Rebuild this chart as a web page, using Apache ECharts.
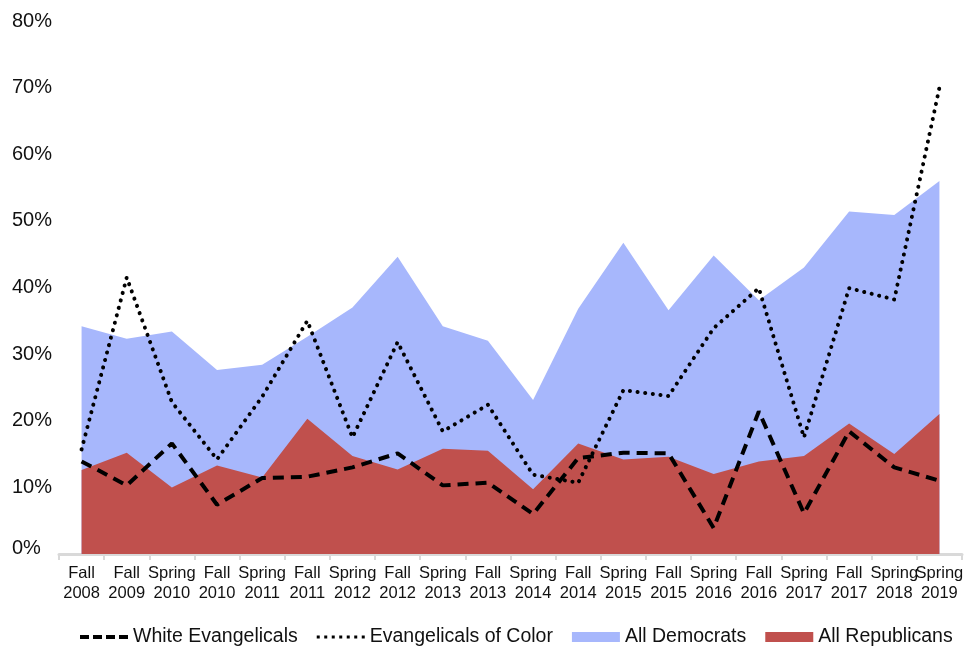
<!DOCTYPE html>
<html>
<head>
<meta charset="utf-8">
<script src="https://cdn.jsdelivr.net/npm/echarts@6/dist/echarts.min.js"></script>
<style>
html,body{margin:0;padding:0;background:#fff;}
#chart{width:971px;height:646px;}
</style>
</head>
<body>
<div id="chart"></div>
<script>
const categories = ["Fall\n2008","Fall\n2009","Spring\n2010","Fall\n2010","Spring\n2011","Fall\n2011","Spring\n2012","Fall\n2012","Spring\n2013","Fall\n2013","Spring\n2014","Fall\n2014","Spring\n2015","Fall\n2015","Spring\n2016","Fall\n2016","Spring\n2017","Fall\n2017","Spring\n2018","Spring\n2019"];
const whiteEvangelicals = [13.9,10.3,16.6,7.4,11.4,11.6,13.0,15.1,10.3,10.7,6.0,14.4,15.2,15.1,3.9,21.4,6.1,18.4,13.0,11.0];
const evangelicalsOfColor = [15.7,41.5,22.8,14.2,23.6,35.0,17.5,31.8,18.4,22.4,11.9,10.7,24.6,23.7,33.9,39.9,17.5,39.9,38.2,70.0];
const allDemocrats = [34.2,32.3,33.4,27.6,28.4,32.6,37.0,44.6,34.2,32.0,23.1,36.8,46.7,36.6,44.8,38.1,43.0,51.4,50.9,56.0];
const allRepublicans = [12.6,15.2,10.0,13.3,11.5,20.3,14.7,12.7,15.8,15.5,9.7,16.6,14.2,14.6,12.0,13.9,14.7,19.6,15.0,21.0];
const yTicks = {min:0, max:80, interval:10};

const FONT = "'Liberation Sans', Arial, Helvetica, sans-serif";
const dashIcon = 'path://M0,0h9v4h-9z M13,0h9v4h-9z M26,0h9v4h-9z M39,0h9v4h-9z';
const dotIcon = 'path://M0,0h3v3h-3z M7.5,0h3v3h-3z M15,0h3v3h-3z M22.5,0h3v3h-3z M30,0h3v3h-3z M37.5,0h3v3h-3z M45,0h3v3h-3z';
const chart = echarts.init(document.getElementById('chart'), null, {renderer:'canvas'});
chart.setOption({
  animation:false,
  backgroundColor:'#ffffff',
  textStyle:{fontFamily:FONT},
  grid:{left:59,right:9,top:21,bottom:92,containLabel:false},
  legend:{
    left:75, top:622, width:896, itemGap:19, itemWidth:48, itemHeight:10,
    textStyle:{fontFamily:FONT,fontSize:19.5,color:'#111'},
    data:[
      {name:'White Evangelicals', icon:dashIcon},
      {name:'Evangelicals of Color', icon:dotIcon},
      {name:'All Democrats', icon:'rect'},
      {name:'All Republicans', icon:'rect'}
    ]
  },
  xAxis:{
    type:'category', data:categories, boundaryGap:true,
    axisLine:{show:true,lineStyle:{color:'#d9d9d9',width:3}},
    axisTick:{show:true,length:6,lineStyle:{color:'#d9d9d9',width:2},alignWithLabel:false},
    axisLabel:{interval:0,fontFamily:FONT,fontSize:16.5,color:'#111',lineHeight:20,margin:9},
    splitLine:{show:false}
  },
  yAxis:{
    type:'value', min:yTicks.min, max:yTicks.max, interval:yTicks.interval,
    axisLine:{show:false}, axisTick:{show:false}, splitLine:{show:false},
    axisLabel:{
      align:'left', margin:47, fontFamily:FONT, fontSize:20, color:'#111',
      formatter:function(v){ return v===0 ? '{z|0%}' : v+'%'; },
      rich:{z:{fontFamily:FONT,fontSize:20,color:'#111',padding:[0,0,12,0]}}
    }
  },
  series:[
    {name:'All Democrats', type:'line', data:allDemocrats, symbol:'none', z:1,
     itemStyle:{color:'#a7b7fc'}, lineStyle:{width:0,color:'#a7b7fc'},
     areaStyle:{color:'#a7b7fc',opacity:1}},
    {name:'All Republicans', type:'line', data:allRepublicans, symbol:'none', z:2,
     itemStyle:{color:'#c0504d'}, lineStyle:{width:0,color:'#c0504d'},
     areaStyle:{color:'#c0504d',opacity:1}},
    {name:'White Evangelicals', type:'line', data:whiteEvangelicals, symbol:'none', z:4,
     itemStyle:{color:'#000'},
     lineStyle:{color:'#000',width:4,type:[11,7]}},
    {name:'Evangelicals of Color', type:'line', data:evangelicalsOfColor, symbol:'none', z:3,
     itemStyle:{color:'#000'},
     lineStyle:{color:'#000',width:4,type:[0.1,7.6],cap:'round'}}
  ]
});
</script>
</body>
</html>
